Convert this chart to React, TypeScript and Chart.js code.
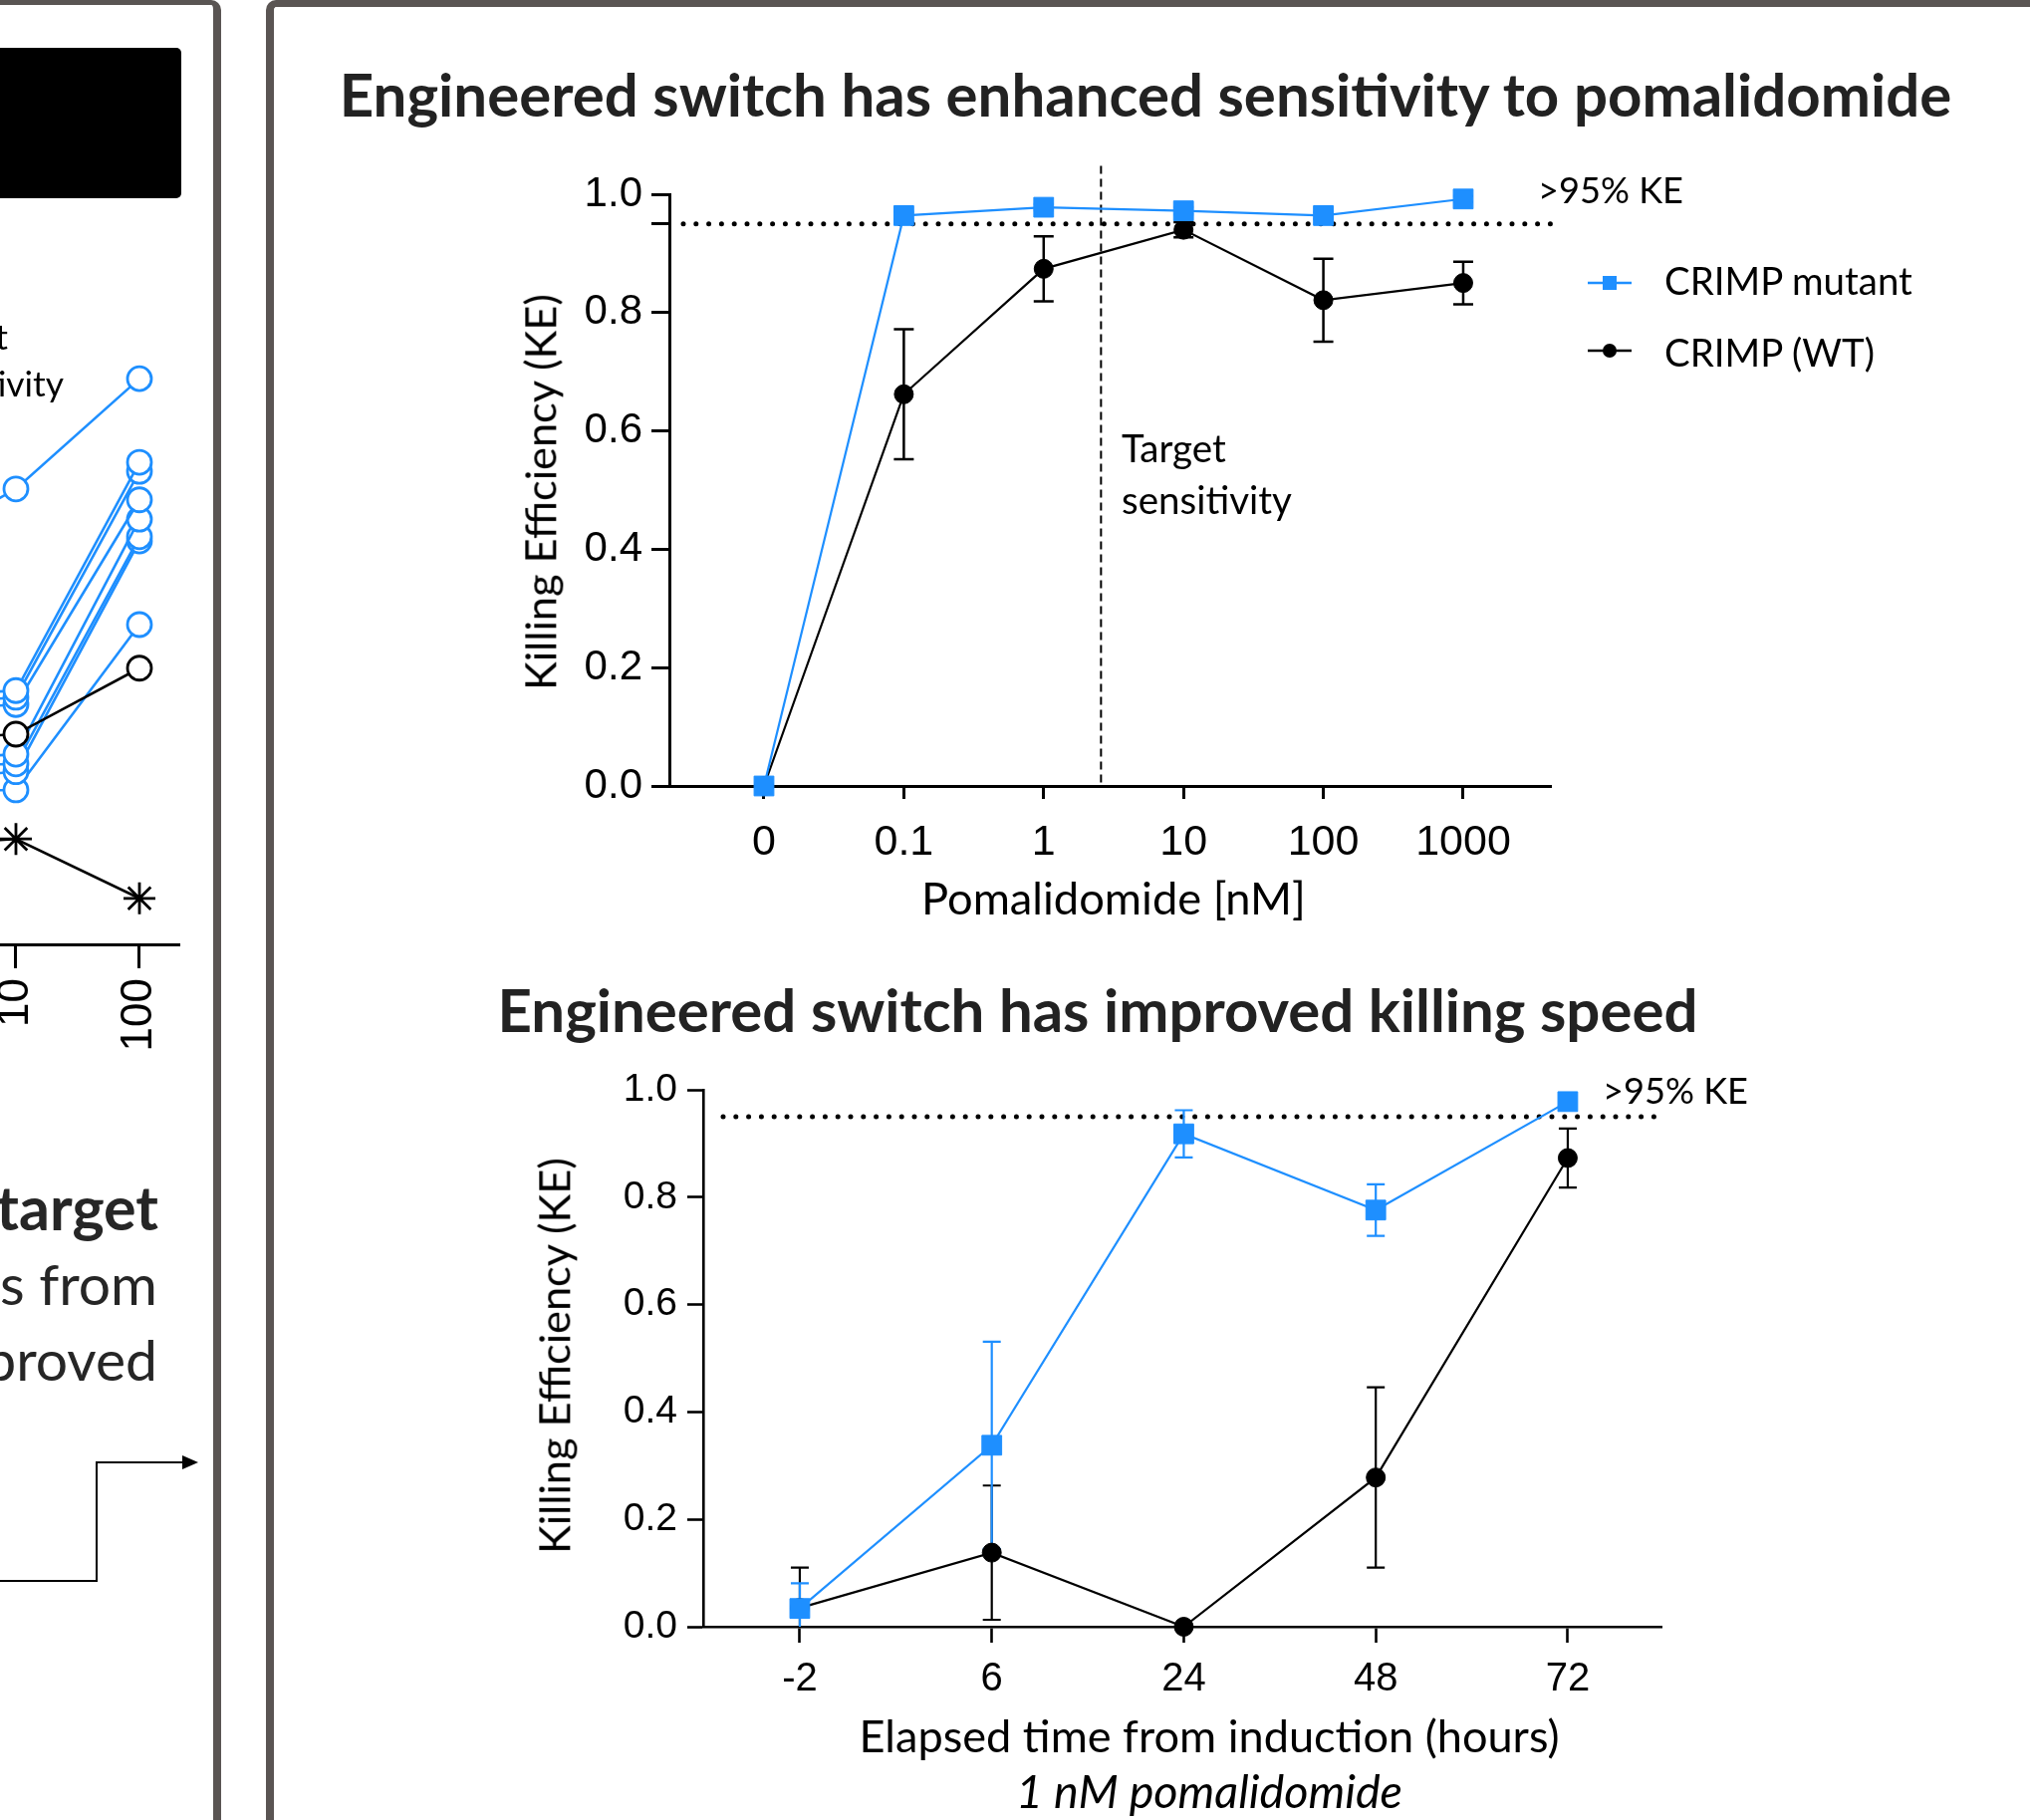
import React, { useEffect, useRef } from 'react';
import { Chart, registerables } from 'chart.js';

Chart.register(...registerables);

// ---------------- DATA ----------------
// Top chart: killing efficiency vs pomalidomide dose
const doseLabels = ['0', '0.1', '1', '10', '100', '1000'];
const doseMutant = [0.0, 0.964, 0.978, 0.972, 0.964, 0.992];
const doseMutantErr = [0.0, 0.006, 0.005, 0.006, 0.006, 0.005];
const doseWT = [0.0, 0.662, 0.874, 0.94, 0.821, 0.85];
const doseWTErr = [0.0, 0.11, 0.055, 0.013, 0.07, 0.036];

// Bottom chart: killing efficiency vs time (1 nM pomalidomide)
const timeLabels = ['-2', '6', '24', '48', '72'];
const timeMutant = [0.034, 0.338, 0.918, 0.776, 0.978];
const timeMutantErr = [0.047, 0.193, 0.044, 0.048, 0.008];
const timeWT = [0.035, 0.138, 0.0, 0.278, 0.873];
const timeWTErr = [0.075, 0.125, 0.0, 0.168, 0.055];

const keThreshold = 0.95;
const targetSensitivityAt = 2.41; // between 1 nM and 10 nM on the category axis
const yTickValues = [0, 0.2, 0.4, 0.6, 0.8, 1.0];

const seriesNames = ['CRIMP mutant', 'CRIMP (WT)'];

// Left (cropped) panel: partially visible line chart
const leftLabels = ['1', '10', '100'];
const leftBlue = [
  [63.8, 75.2, 93.4],
  [40.8, 41.9, 79.6],
  [39.1, 40.8, 78.1],
  [38.3, 39.6, 73.4],
  [30.1, 31.4, 70.2],
  [29.3, 29.8, 67.3],
  [26.8, 28.5, 66.6],
  [25.2, 25.5, 52.8],
];
const leftBlack = [33.4, 34.7, 45.6];
const leftStar = [16.1, 17.4, 7.6];

// ---------------- STYLE ----------------
const BLUE = '#1E8FFF';
const BLACK = '#000000';
const GRAY = '#5a5553';
const TICK_FONT = '"Liberation Sans", Arial, sans-serif';
const TEXT_FONT = 'Lato, "Open Sans", sans-serif';

let measureCtx: CanvasRenderingContext2D | null = null;
function fitSize(text: string, weight: string, style: string, width: number) {
  if (!measureCtx) measureCtx = document.createElement('canvas').getContext('2d');
  measureCtx!.font = `${style} ${weight} 100px ${TEXT_FONT}`;
  const w = measureCtx!.measureText(text).width;
  return (100 * width) / w;
}

// ---------------- PLUGINS ----------------
function errorBarPlugin(cap: number, lw: number) {
  return {
    id: 'errorBars',
    beforeDatasetsDraw(chart: any) {
      const { ctx } = chart;
      const ys = chart.scales.y;
      for (let di = chart.data.datasets.length - 1; di >= 0; di--) {
        const ds = chart.data.datasets[di];
        if (!ds.errors) continue;
        const meta = chart.getDatasetMeta(di);
        ctx.save();
        ctx.strokeStyle = ds.borderColor;
        ctx.lineWidth = lw;
        meta.data.forEach((pt: any, i: number) => {
          const e = ds.errors[i];
          if (!e) return;
          const v = ds.data[i].y;
          const yTop = ys.getPixelForValue(v + e);
          const lowVal = v - e;
          const clipped = lowVal < ys.min;
          const yBot = ys.getPixelForValue(clipped ? ys.min : lowVal);
          ctx.beginPath();
          ctx.moveTo(pt.x, yTop);
          ctx.lineTo(pt.x, yBot);
          ctx.moveTo(pt.x - cap, yTop);
          ctx.lineTo(pt.x + cap, yTop);
          if (!clipped) {
            ctx.moveTo(pt.x - cap, yBot);
            ctx.lineTo(pt.x + cap, yBot);
          }
          ctx.stroke();
        });
        ctx.restore();
      }
    },
  };
}

function thresholdPlugin(startOffset: number) {
  return {
    id: 'threshold',
    beforeDatasetsDraw(chart: any) {
      const { ctx, chartArea } = chart;
      const y = chart.scales.y.getPixelForValue(keThreshold);
      ctx.save();
      ctx.strokeStyle = '#000';
      ctx.lineWidth = 5;
      ctx.lineCap = 'round';
      ctx.setLineDash([0, 12.8]);
      ctx.beginPath();
      ctx.moveTo(chartArea.left + startOffset, y);
      ctx.lineTo(chartArea.right, y);
      ctx.stroke();
      ctx.restore();
    },
  };
}

const targetLinePlugin = {
  id: 'targetLine',
  beforeDatasetsDraw(chart: any) {
    const { ctx } = chart;
    const x = chart.scales.x.getPixelForValue(targetSensitivityAt);
    const y0 = chart.scales.y.getPixelForValue(0);
    const y1 = chart.scales.y.getPixelForValue(1.048);
    ctx.save();
    ctx.strokeStyle = '#000';
    ctx.lineWidth = 2;
    ctx.setLineDash([8, 5]);
    ctx.beginPath();
    ctx.moveTo(x, y1);
    ctx.lineTo(x, y0);
    ctx.stroke();
    ctx.restore();
  },
};

const legendMarkerPlugin = {
  id: 'legendMarkers',
  afterDraw(chart: any) {
    const { ctx, chartArea } = chart;
    const cx = chartArea.right + 59;
    const rows = [chartArea.top + 89, chartArea.top + 157];
    chart.data.datasets.forEach((ds: any, i: number) => {
      const y = rows[i];
      ctx.save();
      ctx.strokeStyle = ds.borderColor;
      ctx.fillStyle = ds.borderColor;
      ctx.lineWidth = 2.5;
      ctx.beginPath();
      ctx.moveTo(cx - 22, y);
      ctx.lineTo(cx + 22, y);
      ctx.stroke();
      if (ds.pointStyle === 'rect') {
        ctx.fillRect(cx - 7, y - 7, 14, 14);
      } else {
        ctx.beginPath();
        ctx.arc(cx, y, 7, 0, Math.PI * 2);
        ctx.fill();
      }
      ctx.restore();
    });
  },
};

// ---------------- CHART CONFIGS ----------------
function mkSeries(values: number[], errors: number[], color: string, style: string, label: string, radius: number) {
  return {
    label,
    data: values.map((v, i) => ({ x: i, y: v })),
    errors,
    clip: false,
    borderColor: color,
    backgroundColor: color,
    borderWidth: 2.2,
    pointStyle: style,
    pointRadius: radius,
    pointHoverRadius: radius,
    pointBackgroundColor: color,
    pointBorderColor: color,
    pointBorderWidth: 1,
    tension: 0,
  };
}

function klAxes(o: any) {
  return {
    x: {
      type: 'linear',
      min: o.xMin,
      max: o.xMax,
      afterBuildTicks: (s: any) => {
        s.ticks = o.labels.map((_: string, i: number) => ({ value: i }));
      },
      afterFit: (s: any) => {
        s.height = o.xHeight;
      },
      ticks: {
        callback: (v: number) => o.labels[v] ?? '',
        font: { family: TICK_FONT, size: o.xFont },
        color: '#000',
        padding: o.xPad,
        autoSkip: false,
        maxRotation: 0,
        minRotation: 0,
      },
      grid: { display: true, drawOnChartArea: false, drawTicks: true, tickLength: o.xTick, tickWidth: o.lw, tickColor: '#000' },
      border: { display: true, color: '#000', width: o.lw },
    },
    y: {
      type: 'linear',
      min: 0,
      max: 1,
      afterBuildTicks: (s: any) => {
        s.ticks = o.yTicks.map((v: number) => ({ value: v }));
      },
      afterFit: (s: any) => {
        s.width = o.yWidth;
      },
      ticks: {
        callback: (v: number) => (yTickValues.some((t) => Math.abs(t - v) < 1e-6) ? v.toFixed(1) : ''),
        font: { family: TICK_FONT, size: o.yFont },
        color: '#000',
        padding: o.yPad,
        autoSkip: false,
      },
      grid: { display: true, drawOnChartArea: false, drawTicks: true, tickLength: o.yTick, tickWidth: o.lw, tickColor: '#000' },
      border: { display: true, color: '#000', width: o.lw },
    },
  };
}

function doseConfig(): any {
  return {
    type: 'line',
    data: {
      datasets: [
        mkSeries(doseMutant, doseMutantErr, BLUE, 'rect', seriesNames[0], 14),
        mkSeries(doseWT, doseWTErr, BLACK, 'circle', seriesNames[1], 9.5),
      ],
    },
    options: {
      responsive: false,
      animation: false,
      events: [],
      layout: { padding: { left: 0, top: 45, right: 443, bottom: 0 } },
      plugins: { legend: { display: false }, tooltip: { enabled: false }, title: { display: false } },
      scales: klAxes({
        xMin: -0.6766, xMax: 5.627, labels: doseLabels, xHeight: 91, xFont: 43, xPad: 18, xTick: 13,
        yTicks: [...yTickValues, keThreshold], yWidth: 112, yFont: 42, yPad: 9, yTick: 18, lw: 3,
      }),
    },
    plugins: [thresholdPlugin(14), targetLinePlugin, errorBarPlugin(10, 2.5), legendMarkerPlugin],
  };
}

function timeConfig(): any {
  return {
    type: 'line',
    data: {
      datasets: [
        mkSeries(timeMutant, timeMutantErr, BLUE, 'rect', seriesNames[0], 14),
        mkSeries(timeWT, timeWTErr, BLACK, 'circle', seriesNames[1], 9.5),
      ],
    },
    options: {
      responsive: false,
      animation: false,
      events: [],
      layout: { padding: { left: 0, top: 44, right: 332, bottom: 0 } },
      plugins: { legend: { display: false }, tooltip: { enabled: false }, title: { display: false } },
      scales: klAxes({
        xMin: -0.503, xMax: 4.488, labels: timeLabels, xHeight: 97, xFont: 40, xPad: 13, xTick: 16,
        yTicks: yTickValues, yWidth: 126, yFont: 39, yPad: 10, yTick: 16, lw: 2.6,
      }),
    },
    plugins: [thresholdPlugin(20), errorBarPlugin(9, 2.2)],
  };
}

function leftConfig(): any {
  const mk = (vals: number[], color: string, style: string, fill: string, r: number) => ({
    data: vals.map((v, i) => ({ x: i - 1, y: v })),
    borderColor: color,
    borderWidth: 2.6,
    pointStyle: style,
    pointRadius: r,
    pointHoverRadius: r,
    pointBorderWidth: 2.8,
    pointBorderColor: color,
    pointBackgroundColor: fill,
    tension: 0,
  });
  return {
    type: 'line',
    data: {
      datasets: [
        mk(leftStar, BLACK, 'star', BLACK, 16),
        mk(leftBlack, BLACK, 'circle', '#fff', 12),
        ...leftBlue.map((s) => mk(s, BLUE, 'circle', '#fff', 12)),
      ],
    },
    options: {
      responsive: false,
      animation: false,
      events: [],
      layout: { padding: { left: 100, top: 40, right: 34, bottom: 0 } },
      plugins: { legend: { display: false }, tooltip: { enabled: false } },
      scales: {
        x: {
          type: 'linear',
          min: -0.129,
          max: 1.3226,
          afterBuildTicks: (s: any) => {
            s.ticks = [{ value: 0 }, { value: 1 }];
          },
          afterFit: (s: any) => {
            s.height = 112;
          },
          ticks: {
            callback: (v: number) => leftLabels[v + 1] ?? '',
            font: { family: TICK_FONT, size: 44 },
            color: '#000',
            padding: 10,
            autoSkip: false,
            maxRotation: 90,
            minRotation: 90,
          },
          grid: { display: true, drawOnChartArea: false, drawTicks: true, tickLength: 24, tickWidth: 3, tickColor: '#000' },
          border: { display: true, color: '#000', width: 3 },
        },
        y: { display: false, min: 0, max: 100 },
      },
    },
  };
}

// ---------------- COMPONENTS ----------------
function ChartCanvas({ left, top, width, height, make }: any) {
  const ref = useRef<HTMLCanvasElement>(null);
  useEffect(() => {
    const chart = new Chart(ref.current as HTMLCanvasElement, make());
    return () => chart.destroy();
  }, []);
  return (
    <canvas
      ref={ref}
      width={width}
      height={height}
      style={{ position: 'absolute', left, top, width, height, display: 'block' }}
    />
  );
}

type TextSpec = {
  text: string;
  x: number;
  y: number;
  anchor?: 'center' | 'left' | 'right';
  width?: number;
  size?: number;
  weight?: string;
  italic?: boolean;
  rotate?: boolean;
  color?: string;
};

function Txt({ t }: { t: TextSpec }) {
  const weight = t.weight ?? '400';
  const style = t.italic ? 'italic' : 'normal';
  const size = t.size ?? fitSize(t.text, weight, style, t.width ?? 100);
  const anchor = t.anchor ?? 'center';
  let transform = anchor === 'center' ? 'translate(-50%,-50%)' : anchor === 'left' ? 'translate(0,-50%)' : 'translate(-100%,-50%)';
  if (t.rotate) transform += ' rotate(-90deg)';
  return (
    <div
      style={{
        position: 'absolute',
        left: t.x,
        top: t.y,
        transform,
        fontFamily: TEXT_FONT,
        fontSize: size,
        fontWeight: weight as any,
        fontStyle: style,
        lineHeight: 1,
        whiteSpace: 'nowrap',
        color: t.color ?? '#000',
      }}
    >
      {t.text}
    </div>
  );
}

export default function App() {
  const annoSize = fitSize('sensitivity', '400', 'normal', 171);
  const legendSize = fitSize(seriesNames[0], '400', 'normal', 250);
  const keSize = fitSize('>95% KE', '400', 'normal', 146);
  const texts: TextSpec[] = [
    { text: 'Engineered switch has enhanced sensitivity to pomalidomide', x: 1150, y: 95, width: 1620, weight: '700', color: '#222' },
    { text: 'Engineered switch has improved killing speed', x: 1102, y: 1014, width: 1205, weight: '700', color: '#222' },
    { text: 'Pomalidomide [nM]', x: 1118, y: 901, width: 386 },
    { text: 'Elapsed time from induction (hours)', x: 1214, y: 1742, width: 703 },
    { text: '1 nM pomalidomide', x: 1214, y: 1797, width: 388, italic: true },
    { text: 'Killing Efficiency (KE)', x: 542, y: 494, width: 399, rotate: true },
    { text: 'Killing Efficiency (KE)', x: 556, y: 1361, width: 399, rotate: true },
    { text: '>95% KE', x: 1544, y: 190, anchor: 'left', size: keSize },
    { text: '>95% KE', x: 1609, y: 1094, anchor: 'left', size: keSize },
    { text: 'Target', x: 1126, y: 449, anchor: 'left', size: annoSize },
    { text: 'sensitivity', x: 1126, y: 501, anchor: 'left', size: annoSize },
    { text: seriesNames[0], x: 1671, y: 281, anchor: 'left', size: legendSize },
    { text: seriesNames[1], x: 1671, y: 353, anchor: 'left', size: legendSize },
    // left cropped panel
    { text: 'Target', x: 8, y: 338, anchor: 'right', size: annoSize * 0.92 },
    { text: 'sensitivity', x: 64, y: 385, anchor: 'right', size: annoSize * 0.92 },
    { text: 'target', x: 159, y: 1211, anchor: 'right', size: 61, weight: '700', color: '#262626' },
    { text: 's from', x: 158, y: 1288, anchor: 'right', size: 57, color: '#262626' },
    { text: 'proved', x: 158, y: 1364, anchor: 'right', size: 57, color: '#262626' },
  ];

  return (
    <div
      style={{
        position: 'absolute',
        left: 0,
        top: 0,
        width: 2038,
        height: 1827,
        overflow: 'hidden',
        background: '#fff',
      }}
    >
      {/* panel frames */}
      <div
        style={{
          position: 'absolute', left: -40, top: 0, width: 262, height: 1900, boxSizing: 'border-box',
          borderTop: `5px solid ${GRAY}`, borderRight: `8px solid ${GRAY}`, borderTopRightRadius: 10,
        }}
      />
      <div
        style={{
          position: 'absolute', left: 267, top: 0, width: 1900, height: 1900, boxSizing: 'border-box',
          borderTop: `7px solid ${GRAY}`, borderLeft: `8px solid ${GRAY}`, borderTopLeftRadius: 10,
        }}
      />
      {/* black box in the cropped left panel */}
      <div style={{ position: 'absolute', left: -20, top: 48, width: 202, height: 151, background: '#000', borderRadius: 5 }} />
      {/* arrow in left panel */}
      <svg width={214} height={1827} style={{ position: 'absolute', left: 0, top: 0 }}>
        <path d="M 0 1587 H 97 V 1468 H 186" fill="none" stroke="#000" strokeWidth={2} />
        <polygon points="183,1461 199,1468 183,1475" fill="#000" />
      </svg>

      <ChartCanvas left={-100} top={300} width={314} height={760} make={leftConfig} />
      <ChartCanvas left={560} top={150} width={1440} height={730} make={doseConfig} />
      <ChartCanvas left={580} top={1050} width={1420} height={680} make={timeConfig} />

      {texts.map((t, i) => (
        <Txt key={i} t={t} />
      ))}
    </div>
  );
}
